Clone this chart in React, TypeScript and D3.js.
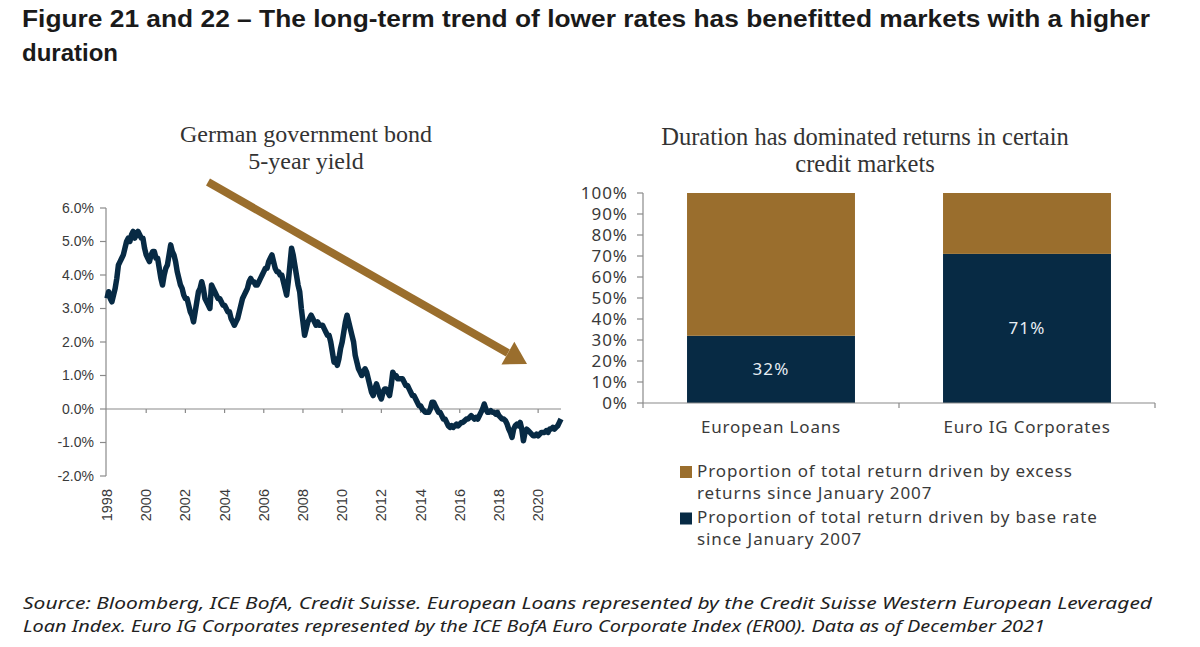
import React from "react";
import * as d3 from "d3";

// ---------- Data ----------
const yieldStartYear = 1998;
// German government bond 5-year yield (%), monthly
const bundYield: number[] = [
  3.3, 3.5, 3.3, 3.2, 3.4, 3.6, 3.9, 4.3, 4.4, 4.5, 4.6, 4.8, 5.0,
  5.1, 5.0, 5.2, 5.3, 5.1, 5.2, 5.3, 5.2, 5.1, 5.1, 4.8, 4.6, 4.5, 4.4,
  4.6, 4.7, 4.7, 4.5, 4.5, 4.2, 3.9, 3.7, 4.0, 4.2, 4.3, 4.6, 4.9, 4.7,
  4.6, 4.4, 4.1, 3.9, 3.7, 3.6, 3.4, 3.3, 3.3, 3.1, 2.9, 2.8, 2.6, 2.9, 3.2, 3.5, 3.6, 3.8, 3.6, 3.3,
  3.2, 3.1, 3.0, 3.7, 3.6, 3.5, 3.4, 3.3, 3.3, 3.2, 3.1, 3.1, 3.0, 2.9, 2.9, 2.7, 2.6, 2.5, 2.6, 2.7,
  2.9, 3.1, 3.3, 3.4, 3.5, 3.6, 3.8, 3.9, 3.8, 3.8, 3.7, 3.7, 3.8, 3.9, 4.0, 4.1, 4.2, 4.2, 4.4, 4.5,
  4.6, 4.4, 4.2, 4.1, 4.1, 4.0, 4.0, 3.8, 3.6, 3.4, 3.8, 4.3, 4.8, 4.6, 4.3, 4.0, 3.7, 3.5, 3.0, 2.6,
  2.2, 2.4, 2.6, 2.7, 2.8, 2.7, 2.6, 2.5, 2.6, 2.5, 2.5, 2.5, 2.4, 2.3, 2.2, 2.2, 2.0, 1.7, 1.4, 1.5,
  1.3, 1.5, 1.8, 2.0, 2.3, 2.6, 2.8, 2.6, 2.4, 2.2, 2.0, 1.6, 1.4, 1.2, 1.1, 1.0, 1.1, 1.2, 1.1, 0.9,
  0.7, 0.5, 0.4, 0.6, 0.75, 0.6, 0.4, 0.3, 0.5, 0.6, 0.6, 0.5, 0.4, 0.7, 1.1, 1.0, 1.0, 0.9, 0.9, 0.9,
  0.9, 0.8, 0.7, 0.7, 0.6, 0.5, 0.4, 0.4, 0.3, 0.2, 0.1, 0.1, 0.0, -0.05, -0.1, -0.1, -0.1, 0.0, 0.2, 0.2,
  0.1, 0.0, -0.1, -0.1, -0.2, -0.3, -0.3, -0.4, -0.5, -0.55, -0.5, -0.55, -0.5, -0.45, -0.5, -0.45, -0.4, -0.4, -0.35, -0.3,
  -0.3, -0.25, -0.2, -0.25, -0.3, -0.25, -0.3, -0.2, -0.1, 0.0, 0.15, 0.0, -0.1, -0.1, -0.05, -0.1, -0.1, -0.15, -0.1, -0.2,
  -0.25, -0.3, -0.3, -0.35, -0.45, -0.6, -0.7, -0.85, -0.6, -0.5, -0.45, -0.5, -0.4, -0.6, -0.95, -0.7, -0.6, -0.65, -0.7, -0.75,
  -0.8, -0.8, -0.75, -0.8, -0.75, -0.7, -0.7, -0.7, -0.65, -0.7, -0.6, -0.6, -0.55, -0.6, -0.55, -0.5, -0.4, -0.3,
];
const yearTicks: number[] = [1998, 2000, 2002, 2004, 2006, 2008, 2010, 2012, 2014, 2016, 2018, 2020];
const yieldTicks: number[] = [-2, -1, 0, 1, 2, 3, 4, 5, 6];

const categories: string[] = ["European Loans", "Euro IG Corporates"];
const baseRateShare: number[] = [32, 71];
const excessShare: number[] = [68, 29];
const pctTicks: number[] = [0, 10, 20, 30, 40, 50, 60, 70, 80, 90, 100];

const titleLines: string[] = [
  "Figure 21 and 22 \u2013 The long-term trend of lower rates has benefitted markets with a higher",
  "duration",
];
const leftTitle: string[] = ["German government bond", "5-year yield"];
const rightTitle: string[] = ["Duration has dominated returns in certain", "credit markets"];
const legendItems: { key: string; lines: string[] }[] = [
  { key: "excess", lines: ["Proportion of total return driven by excess", "returns since January 2007"] },
  { key: "base", lines: ["Proportion of total return driven by base rate", "since January 2007"] },
];
const sourceLines: string[] = [
  "Source: Bloomberg, ICE BofA, Credit Suisse. European Loans represented by the Credit Suisse Western European Leveraged",
  "Loan Index. Euro IG Corporates represented by the ICE BofA Euro Corporate Index (ER00). Data as of December 2021",
];

// ---------- Styles ----------
const GOLD = "#9A6E2D";
const NAVY = "#072A44";
const AXIS = "#8a8a8a";
const TEXT = "#3a3a3a";
const SANS = "'Noto Sans', 'Open Sans', sans-serif";
const SERIF = "'Liberation Serif', 'Times New Roman', serif";
const ARIAL = "'Liberation Sans', Arial, sans-serif";

export default function App() {
  // Left chart scales
  const lastYear = yieldStartYear + (bundYield.length - 1) / 12;
  const xL = d3.scaleLinear().domain([yieldStartYear, lastYear]).range([107, 561]);
  const yL = d3.scaleLinear().domain([-2, 6]).range([476, 208]);
  const line = d3
    .line<number>()
    .x((_, i) => xL(yieldStartYear + i / 12))
    .y((d) => yL(d))
    .curve(d3.curveLinear);

  // Right chart scales
  const xR = d3.scaleBand<string>().domain(categories).range([643, 1155]).paddingInner(0.344).paddingOuter(0.172);
  const yR = d3.scaleLinear().domain([0, 100]).range([403, 193]);
  const stackData = categories.map((c, i) => ({ cat: c, base: baseRateShare[i], excess: excessShare[i] }));
  const stacked = d3.stack<any>().keys(["base", "excess"])(stackData);
  const colorOf: Record<string, string> = { base: NAVY, excess: GOLD };

  // Arrow geometry (annotation)
  const arrowStart: [number, number] = [208, 182];
  const arrowTip: [number, number] = [527, 364];
  const dx = arrowTip[0] - arrowStart[0];
  const dy = arrowTip[1] - arrowStart[1];
  const len = Math.hypot(dx, dy);
  const ux = dx / len, uy = dy / len;
  const headLen = 22, headHalf = 13;
  const bx = arrowTip[0] - headLen * ux, by = arrowTip[1] - headLen * uy;
  const headPts = [
    [arrowTip[0], arrowTip[1]],
    [bx - headHalf * uy, by + headHalf * ux],
    [bx + headHalf * uy, by - headHalf * ux],
  ]
    .map((p) => p.join(","))
    .join(" ");

  const bandMid = (xR(categories[1]) as number) - (xR.step() * xR.paddingInner()) / 2;

  return (
    <div style={{ position: "absolute", left: 0, top: 0 }}>
      <svg width={1200} height={647} viewBox="0 0 1200 647" style={{ display: "block", background: "#fff" }}>
        <rect x={0} y={0} width={1200} height={647} fill="#fff" />
        {/* Main title */}
        {titleLines.map((t, i) => (
          <text
            key={i}
            x={22}
            y={27 + i * 34}
            fontFamily={ARIAL}
            fontWeight="bold"
            fontSize={24}
            fill="#1a1a1a"
            textLength={i === 0 ? 1128 : undefined}
            lengthAdjust="spacingAndGlyphs"
          >
            {t}
          </text>
        ))}

        {/* ---------- Left chart ---------- */}
        {leftTitle.map((t, i) => (
          <text key={i} x={306} y={142 + i * 27} textAnchor="middle" fontFamily={SERIF} fontSize={24} fill="#333">
            {t}
          </text>
        ))}
        {/* y axis */}
        <line x1={106} x2={106} y1={yL(6)} y2={yL(-2)} stroke={AXIS} strokeWidth={1.2} />
        {yieldTicks.map((v) => (
          <g key={v}>
            <line x1={100} x2={106} y1={yL(v)} y2={yL(v)} stroke={AXIS} strokeWidth={1.2} />
            <text x={94} y={yL(v)} dy="0.35em" textAnchor="end" fontFamily={ARIAL} fontSize={14} fill={TEXT}>
              {v.toFixed(1) + "%"}
            </text>
          </g>
        ))}
        {/* x axis at 0 */}
        <line x1={106} x2={xL(lastYear)} y1={yL(0)} y2={yL(0)} stroke={AXIS} strokeWidth={1.2} />
        {yearTicks.map((yr) => (
          <g key={yr}>
            {yr !== yieldStartYear && (
              <line x1={xL(yr)} x2={xL(yr)} y1={yL(0)} y2={yL(0) + 4} stroke={AXIS} strokeWidth={1.2} />
            )}
            <text
              transform={`translate(${xL(yr) + 5},489) rotate(-90)`}
              textAnchor="end"
              fontFamily={ARIAL}
              fontSize={14.5}
              fill={TEXT}
            >
              {yr}
            </text>
          </g>
        ))}
        <path d={line(bundYield) || ""} fill="none" stroke={NAVY} strokeWidth={5.5} strokeLinejoin="round" />
        {/* trend arrow */}
        <line x1={arrowStart[0]} y1={arrowStart[1]} x2={bx} y2={by} stroke={GOLD} strokeWidth={8} />
        <polygon points={headPts} fill={GOLD} />

        {/* ---------- Right chart ---------- */}
        {rightTitle.map((t, i) => (
          <text key={i} x={865} y={145 + i * 27} textAnchor="middle" fontFamily={SERIF} fontSize={24.5} fill="#333">
            {t}
          </text>
        ))}
        {stacked.map((layer) =>
          layer.map((seg, j) => (
            <rect
              key={layer.key + j}
              x={xR(seg.data.cat)}
              y={yR(seg[1])}
              width={xR.bandwidth()}
              height={yR(seg[0]) - yR(seg[1])}
              fill={colorOf[layer.key]}
            />
          ))
        )}
        {categories.map((c, i) => (
          <text
            key={c}
            x={(xR(c) as number) + xR.bandwidth() / 2}
            y={yR(baseRateShare[i] / 2)}
            dy="0.35em"
            textAnchor="middle"
            fontFamily={SANS}
            fontSize={17}
            letterSpacing={1.2}
            fill="#e6edf3"
          >
            {baseRateShare[i] + "%"}
          </text>
        ))}
        {/* y axis */}
        <line x1={643} x2={643} y1={yR(100)} y2={yR(0)} stroke={AXIS} strokeWidth={1.2} />
        {pctTicks.map((v) => (
          <g key={v}>
            <line x1={637} x2={643} y1={yR(v)} y2={yR(v)} stroke={AXIS} strokeWidth={1.2} />
            <text x={628} y={yR(v)} dy="0.36em" textAnchor="end" fontFamily={SANS} fontSize={17} letterSpacing={1} fill={TEXT}>
              {v + "%"}
            </text>
          </g>
        ))}
        {/* x axis */}
        <line x1={643} x2={1155} y1={yR(0)} y2={yR(0)} stroke={AXIS} strokeWidth={1.2} />
        {[643, bandMid, 1155].map((x, i) => (
          <line key={i} x1={x} x2={x} y1={yR(0)} y2={yR(0) + 5} stroke={AXIS} strokeWidth={1.2} />
        ))}
        {categories.map((c) => (
          <text
            key={c}
            x={(xR(c) as number) + xR.bandwidth() / 2}
            y={433}
            textAnchor="middle"
            fontFamily={SANS}
            fontSize={17}
            letterSpacing={0.8}
            fill={TEXT}
          >
            {c}
          </text>
        ))}
        {/* legend */}
        {legendItems.map((item, i) => (
          <g key={item.key}>
            <rect x={680} y={466 + i * 46.5} width={12} height={12} fill={colorOf[item.key]} />
            {item.lines.map((l, k) => (
              <text key={k} x={697} y={477 + i * 46 + k * 22} fontFamily={SANS} fontSize={17} letterSpacing={0.9} fill={TEXT}>
                {l}
              </text>
            ))}
          </g>
        ))}

        {/* Source */}
        {sourceLines.map((s, i) => (
          <text
            key={i}
            x={23}
            y={609 + i * 23}
            fontFamily={SANS}
            fontStyle="italic"
            fontSize={16}
            fill="#222"
            textLength={i === 0 ? 1129 : 1022}
            lengthAdjust="spacingAndGlyphs"
          >
            {s}
          </text>
        ))}
      </svg>
    </div>
  );
}
